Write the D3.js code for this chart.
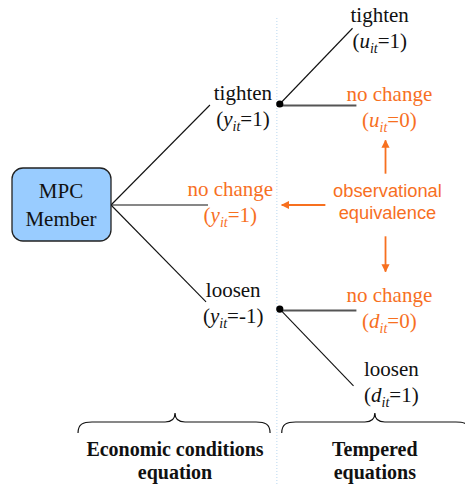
<!DOCTYPE html>
<html>
<head>
<meta charset="utf-8">
<script src="https://cdn.jsdelivr.net/npm/d3@7"></script>
<style>
  body { margin: 0; background: #fff; }
</style>
</head>
<body>
<div id="chart"></div>
<script>
// tree in logical units: col = depth, row = branch offset
var rootNode = { col: 0, row: 0, lines: ["MPC", "Member"] };
var branchEnds = [
  { col: 1.02, row: -0.99 },
  { col: 1.0, row: 0 },
  { col: 0.98, row: 0.96 }
];
var decisionNodes = [
  { col: 1.74, row: -1 },
  { col: 1.74, row: 1.03 }
];
var leafEnds = [
  { from: 0, col: 2.49, row: -1.75 },
  { from: 0, col: 2.53, row: -0.98, flat: true },
  { from: 1, col: 2.53, row: 1.03, flat: true },
  { from: 1, col: 2.5, row: 1.79 }
];
// labels: text, variable, value, colour group, anchor
var labelText = ["tighten", "tighten", "no change", "no change", "loosen", "no change", "loosen"];
var labelVar = ["u", "y", "u", "y", "y", "d", "d"];
var labelVal = ["1", "1", "0", "1", "-1", "0", "1"];
var labelOrange = [false, false, true, true, false, true, false];
var labelCol = [2.77, 1.36, 2.87, 1.23, 1.26, 2.87, 2.89];
var labelRow = [-1.81, -1.04, -1.03, -0.09, 0.91, 0.96, 1.69];

var noteLines = ["observational", "equivalence"];
var noteCol = 2.85, noteRow = -0.08;
// arrows from the note: [fromCol, fromRow, toCol, toRow]
var arrows = [
  [2.83, -0.31, 2.83, -0.64],
  [2.83, 0.31, 2.83, 0.66],
  [2.21, 0, 1.76, 0]
];
var dividerCol = 1.71;
var braces = [
  { c0: -0.34, c1: 1.64, tip: 0.66, lines: ["Economic conditions", "equation"] },
  { c0: 1.76, c1: 3.7, tip: 2.72, lines: ["Tempered", "equations"] }
];

var width = 465, height = 486;
var orange = "#f7701f";
var serif = "'Liberation Serif', 'DejaVu Serif', serif";

var x = d3.scaleLinear().domain([0, 3]).range([111, 111 + 3 * 97]);
var y = d3.scaleLinear().domain([-2, 2]).range([205 - 2 * 101, 205 + 2 * 101]);

var svg = d3.select("#chart").append("svg")
  .attr("width", width)
  .attr("height", height)
  .style("font-family", serif);

svg.append("defs").append("marker")
  .attr("id", "head")
  .attr("viewBox", "0 0 10 10")
  .attr("refX", 9).attr("refY", 5)
  .attr("markerWidth", 4.5).attr("markerHeight", 4.5)
  .attr("markerUnits", "strokeWidth")
  .attr("orient", "auto")
  .append("path")
  .attr("d", "M0,0 L10,5 L0,10 Z")
  .attr("fill", orange);

// dotted divider
svg.append("line")
  .attr("x1", x(dividerCol)).attr("x2", x(dividerCol))
  .attr("y1", 18).attr("y2", height)
  .attr("stroke", "#b9d7ef")
  .attr("stroke-width", 1)
  .attr("stroke-dasharray", "1,2");

// first level branches
svg.selectAll(".branch").data(branchEnds).enter().append("line")
  .attr("class", "branch")
  .attr("x1", x(rootNode.col)).attr("y1", y(rootNode.row))
  .attr("x2", function(d) { return x(d.col); })
  .attr("y2", function(d) { return y(d.row); })
  .attr("stroke", "#111")
  .attr("stroke-width", 1.1);

// second level branches
svg.selectAll(".leaf").data(leafEnds).enter().append("line")
  .attr("class", "leaf")
  .attr("x1", function(d) { return x(decisionNodes[d.from].col); })
  .attr("y1", function(d) { return y(decisionNodes[d.from].row) + (d.flat ? 1.5 : 0); })
  .attr("x2", function(d) { return x(d.col); })
  .attr("y2", function(d) { return d.flat ? y(decisionNodes[d.from].row) + 1.5 : y(d.row); })
  .attr("stroke", function(d) { return d.flat ? "#555" : "#111"; })
  .attr("stroke-width", function(d) { return d.flat ? 2 : 1.1; });

svg.selectAll(".dot").data(decisionNodes).enter().append("circle")
  .attr("class", "dot")
  .attr("cx", function(d) { return x(d.col); })
  .attr("cy", function(d) { return y(d.row); })
  .attr("r", 3.6)
  .attr("fill", "#000");

// MPC box
svg.append("rect")
  .attr("x", 12).attr("y", 168)
  .attr("width", x(rootNode.col) - 12).attr("height", 73)
  .attr("rx", 11)
  .attr("fill", "#99ccff")
  .attr("stroke", "#222")
  .attr("stroke-width", 1.3);

svg.selectAll(".box-text").data(rootNode.lines).enter().append("text")
  .attr("class", "box-text")
  .attr("x", 61)
  .attr("y", function(d, i) { return 198 + i * 28; })
  .attr("text-anchor", "middle")
  .attr("font-family", serif)
  .attr("font-size", 21)
  .attr("fill", "#111")
  .text(function(d) { return d; });

// branch labels
labelText.forEach(function(t, i) {
  var colr = labelOrange[i] ? orange : "#111";
  var cx = x(labelCol[i]), by = y(labelRow[i]);
  svg.append("text")
    .attr("x", cx).attr("y", by)
    .attr("text-anchor", "middle")
    .attr("font-family", serif)
    .attr("font-size", 21)
    .attr("fill", colr)
    .text(t);
  var eq = svg.append("text")
    .attr("x", cx).attr("y", by + 26)
    .attr("text-anchor", "middle")
    .attr("font-family", serif)
    .attr("font-size", 21)
    .attr("fill", colr);
  eq.append("tspan").text("(");
  eq.append("tspan").attr("font-style", "italic").text(labelVar[i]);
  eq.append("tspan").attr("font-style", "italic").attr("font-size", 14)
    .attr("dy", 5).text("it");
  eq.append("tspan").attr("dy", -5).text("=" + labelVal[i] + ")");
});

// observational equivalence note
svg.selectAll(".note").data(noteLines).enter().append("text")
  .attr("class", "note")
  .attr("x", x(noteCol))
  .attr("y", function(d, i) { return y(noteRow) + i * 22; })
  .attr("text-anchor", "middle")
  .attr("font-family", "'Liberation Sans', Arial, sans-serif")
  .attr("font-size", 18.3)
  .attr("fill", orange)
  .text(function(d) { return d; });

svg.selectAll(".arrow").data(arrows).enter().append("line")
  .attr("class", "arrow")
  .attr("x1", function(d) { return x(d[0]); })
  .attr("y1", function(d) { return y(d[1]); })
  .attr("x2", function(d) { return x(d[2]); })
  .attr("y2", function(d) { return y(d[3]); })
  .attr("stroke", orange)
  .attr("stroke-width", 1.8)
  .attr("marker-end", "url(#head)");

// braces
function bracePath(x0, x1, xt, top, bot) {
  var mid = (top + bot) / 2 - 1;
  return "M" + x0 + "," + bot +
    " C" + x0 + "," + (mid + 2) + " " + (x0 + 5) + "," + mid + " " + (x0 + 14) + "," + mid +
    " L" + (xt - 10) + "," + mid +
    " C" + (xt - 4) + "," + mid + " " + xt + "," + (mid - 2) + " " + xt + "," + top +
    " C" + xt + "," + (mid - 2) + " " + (xt + 4) + "," + mid + " " + (xt + 10) + "," + mid +
    " L" + (x1 - 14) + "," + mid +
    " C" + (x1 - 5) + "," + mid + " " + x1 + "," + (mid + 2) + " " + x1 + "," + bot;
}

braces.forEach(function(b) {
  svg.append("path")
    .attr("d", bracePath(x(b.c0), x(b.c1), x(b.tip), 413, 433))
    .attr("fill", "none")
    .attr("stroke", "#111")
    .attr("stroke-width", 1.2);
  b.lines.forEach(function(t, i) {
    svg.append("text")
      .attr("x", x(b.tip))
      .attr("y", 456 + i * 23)
      .attr("text-anchor", "middle")
      .attr("font-family", serif)
      .attr("font-size", 20)
      .attr("font-weight", "bold")
      .attr("fill", "#111")
      .text(t);
  });
});
</script>
</body>
</html>
